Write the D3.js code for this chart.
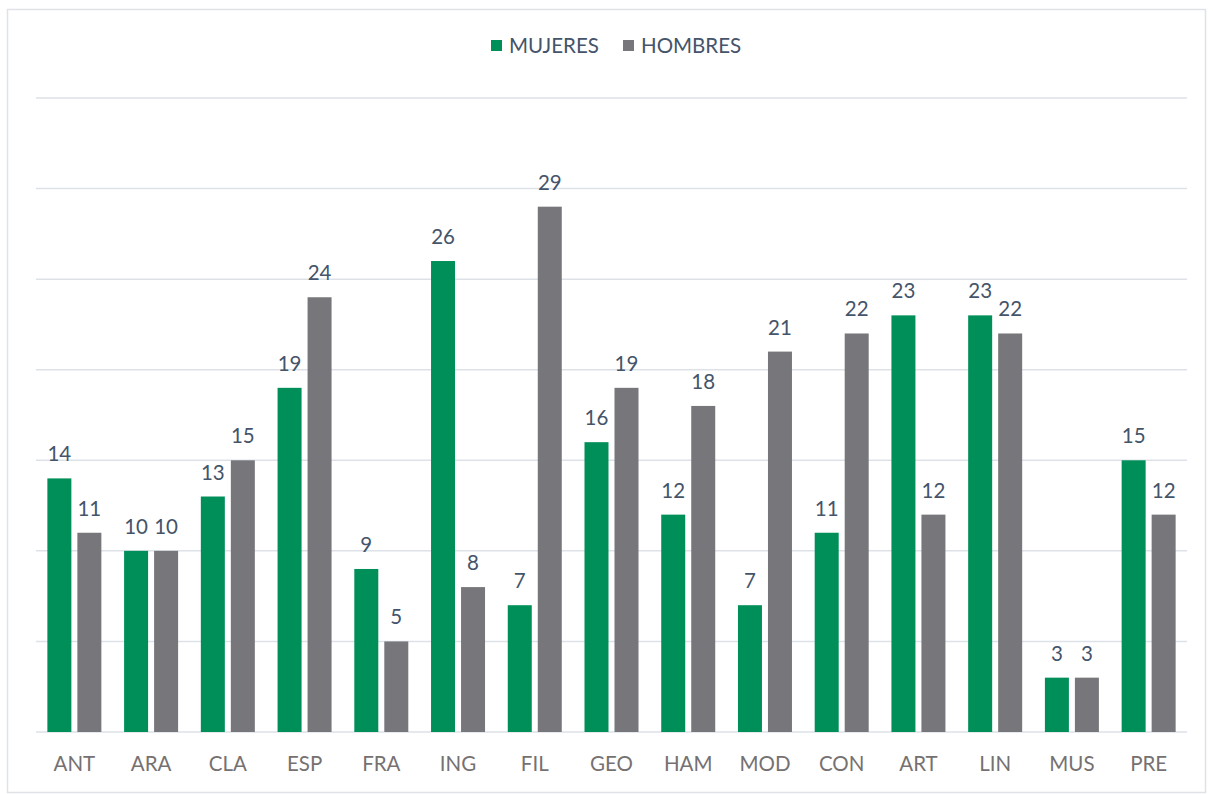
<!DOCTYPE html>
<html><head><meta charset="utf-8">
<script src="https://cdn.jsdelivr.net/npm/d3@7"></script>
<style>body{margin:0;background:#fff;font-family:Lato,"Open Sans",sans-serif;}</style>
</head><body><svg id="c" width="1213" height="794"></svg>
<script>
const categories = ["ANT","ARA","CLA","ESP","FRA","ING","FIL","GEO","HAM","MOD","CON","ART","LIN","MUS","PRE"];
const mujeres = [14,10,13,19,9,26,7,16,12,7,11,23,23,3,15];
const hombres = [11,10,15,24,5,8,29,19,18,21,22,12,22,3,12];
const seriesNames = ["MUJERES","HOMBRES"];
const yTicks = [0,5,10,15,20,25,30,35];
const colors = ["#008f59","#77777b"];

const svg = d3.select("#c");
svg.append("rect").attr("x",7.5).attr("y",9.5).attr("width",1198).attr("height",783)
  .attr("fill","#fff").attr("stroke","#dfe3e8").attr("stroke-width",1.5);

const x = d3.scaleBand().domain(categories).range([36,1187]).paddingInner(0).paddingOuter(0);
const y = d3.scaleLinear().domain([0,35]).range([732,98]);
const xs = d3.scaleBand().domain(seriesNames).range([0,54]).paddingInner(0.2);

svg.append("g").selectAll("line").data(yTicks).join("line")
  .attr("x1",36).attr("x2",1187).attr("y1",d=>y(d)).attr("y2",d=>y(d))
  .attr("stroke","#dde2e8").attr("stroke-width",1.5);

const data = categories.map((c,i)=>({c, vals:[mujeres[i],hombres[i]]}));
const g = svg.append("g");
const grp = g.selectAll("g").data(data).join("g")
  .attr("transform",d=>`translate(${x(d.c)+x.bandwidth()/2-27},0)`);
grp.selectAll("rect").data(d=>d.vals.map((v,j)=>({v,s:seriesNames[j],j}))).join("rect")
  .attr("x",d=>xs(d.s)).attr("width",xs.bandwidth())
  .attr("y",d=>y(d.v)).attr("height",d=>y(0)-y(d.v))
  .attr("fill",d=>colors[d.j]);
grp.selectAll("text").data(d=>d.vals.map((v,j)=>({v,s:seriesNames[j],j}))).join("text")
  .attr("x",d=>xs(d.s)+xs.bandwidth()/2).attr("y",d=>y(d.v)-17)
  .attr("text-anchor","middle").attr("font-size",20.5).attr("fill","#44546a")
  .text(d=>d.v);

const xAxis = svg.append("g").attr("transform","translate(0,732)")
  .call(d3.axisBottom(x).tickSize(0).tickPadding(24));
xAxis.select(".domain").remove();
xAxis.selectAll("text").attr("font-size",20.5).attr("fill","#767171").attr("font-family","Lato,'Open Sans',sans-serif");

const leg = svg.append("g");
const legX = [491,623];
seriesNames.forEach((s,i)=>{
  leg.append("rect").attr("x",legX[i]).attr("y",40).attr("width",11).attr("height",11).attr("fill",colors[i]);
  leg.append("text").attr("x",legX[i]+18).attr("y",53).attr("font-size",20.5).attr("fill","#44546a").text(s);
});
</script></body></html>
